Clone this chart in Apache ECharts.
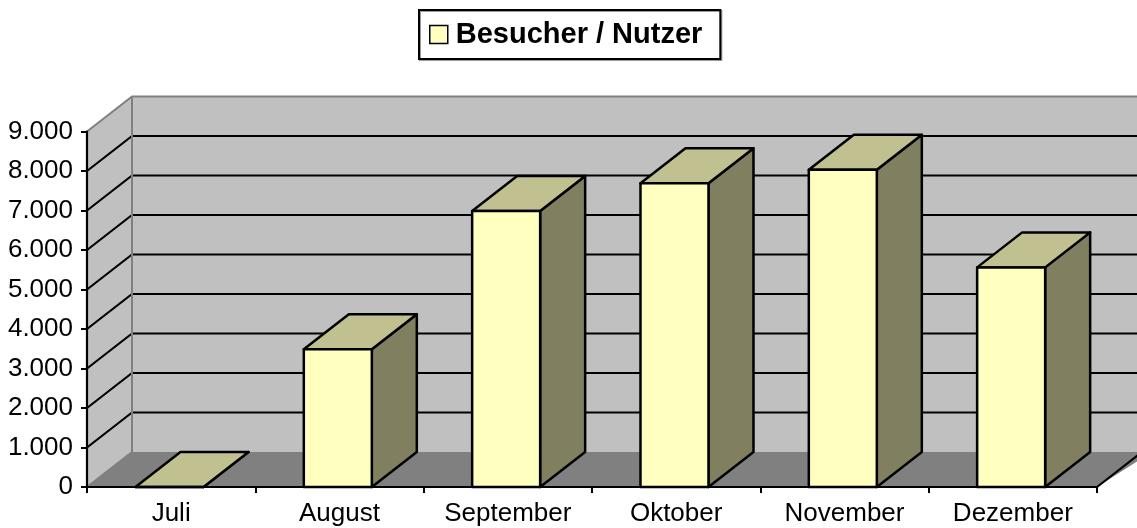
<!DOCTYPE html>
<html>
<head>
<meta charset="utf-8">
<title>Besucher / Nutzer</title>
<script src="https://cdn.jsdelivr.net/npm/echarts@6/dist/echarts.min.js"></script>
<style>
  html, body {
    margin: 0;
    padding: 0;
    background: #ffffff;
  }
  #chart {
    width: 1137px;
    height: 528px;
  }
</style>
</head>
<body>
<div id="chart"></div>
<script>
// Daten
let months = ['Juli', 'August', 'September', 'Oktober', 'November', 'Dezember'];
let visitors = [0, 3490, 6990, 7690, 8030, 5560];
let tickValues = [0, 1000, 2000, 3000, 4000, 5000, 6000, 7000, 8000, 9000];
let seriesName = 'Besucher / Nutzer';

// 3D Tiefe (Pixel)
let depthX = 45;
let depthY = -35;

let fontName = "'Liberation Sans', Arial, sans-serif";

function fmtThousands(v) {
  return String(v).replace(/\B(?=(\d{3})+(?!\d))/g, '.');
}

function renderWalls(params, api) {
  let cs = params.coordSys;
  let x0 = cs.x, x1 = cs.x + cs.width;
  let yTop = api.coord([0, tickValues[tickValues.length - 1]])[1];
  let yBase = api.coord([0, 0])[1];
  let children = [];

  // Rückwand
  children.push({
    type: 'polygon',
    shape: {points: [[x0 + depthX, yTop + depthY], [x1 + depthX + 10, yTop + depthY], [x1 + depthX + 10, yBase + depthY], [x0 + depthX, yBase + depthY]]},
    style: {fill: '#C0C0C0', stroke: null}
  });
  // Seitenwand links
  children.push({
    type: 'polygon',
    shape: {points: [[x0, yTop], [x0 + depthX, yTop + depthY], [x0 + depthX, yBase + depthY], [x0, yBase]]},
    style: {fill: '#C0C0C0', stroke: null}
  });
  // Boden
  children.push({
    type: 'polygon',
    shape: {points: [[x0, yBase], [x0 + depthX, yBase + depthY], [x1 + depthX + 10, yBase + depthY], [x1, yBase]]},
    style: {fill: '#808080', stroke: null}
  });

  // Gitterlinien
  for (let i = 1; i < tickValues.length - 1; i++) {
    let y = api.coord([0, tickValues[i]])[1];
    children.push({
      type: 'polyline',
      shape: {points: [[x0, y], [x0 + depthX, y + depthY], [x1 + depthX + 10, y + depthY]]},
      style: {stroke: '#000000', lineWidth: 2.2, fill: null}
    });
  }

  // graue Kanten
  children.push({
    type: 'polyline',
    shape: {points: [[x0, yTop], [x0 + depthX, yTop + depthY], [x1 + depthX + 10, yTop + depthY]]},
    style: {stroke: '#808080', lineWidth: 2, fill: null}
  });
  children.push({
    type: 'polyline',
    shape: {points: [[x0 + depthX, yTop + depthY], [x0 + depthX, yBase + depthY], [x0, yBase]]},
    style: {stroke: '#808080', lineWidth: 2, fill: null}
  });
  // rechte Bodenkante
  children.push({
    type: 'line',
    shape: {x1: x1, y1: yBase, x2: x1 + depthX, y2: yBase + depthY},
    style: {stroke: '#000000', lineWidth: 2.2}
  });

  return {type: 'group', children: children};
}

function renderBar(params, api) {
  let idx = api.value(0);
  let val = api.value(1);
  let top = api.coord([idx, val]);
  let base = api.coord([idx, 0]);
  let band = api.size([1, 0])[0];
  let left = top[0] - band * 0.212;
  let right = left + band * 0.404;
  let T = top[1];
  let B = base[1];
  let edge = {stroke: '#000000', lineWidth: 2.5, lineJoin: 'round'};

  return {
    type: 'group',
    children: [
      {
        type: 'polygon',
        shape: {points: [[right, T], [right + depthX, T + depthY], [right + depthX, B + depthY], [right, B]]},
        style: Object.assign({fill: '#808060'}, edge)
      },
      {
        type: 'polygon',
        shape: {points: [[left, T], [left + depthX, T + depthY], [right + depthX, T + depthY], [right, T]]},
        style: Object.assign({fill: '#C0C090'}, edge)
      },
      {
        type: 'rect',
        shape: {x: left, y: T, width: right - left, height: B - T},
        style: Object.assign({fill: '#FFFFC0'}, edge)
      }
    ]
  };
}

let chart = echarts.init(document.getElementById('chart'));

let option = {
  animation: false,
  backgroundColor: '#ffffff',
  legend: {
    data: [seriesName],
    top: 10,
    left: 419,
    padding: [10, 18, 10, 10],
    itemWidth: 18,
    itemHeight: 18,
    icon: 'rect',
    borderColor: '#000000',
    borderWidth: 2,
    backgroundColor: '#ffffff',
    shadowColor: '#9a9a9a',
    shadowOffsetX: 1,
    shadowOffsetY: 1,
    shadowBlur: 0,
    itemStyle: {color: '#FFFFC0', borderColor: '#000000', borderWidth: 1.5},
    textStyle: {fontFamily: fontName, fontWeight: 'bold', fontSize: 29, color: '#000000', padding: [0, 0, 0, 3]},
    selectedMode: false
  },
  grid: {
    left: 87,
    right: 40,
    top: 131.5,
    bottom: 41
  },
  xAxis: {
    type: 'category',
    data: months,
    boundaryGap: true,
    axisLine: {show: true, lineStyle: {color: '#000000', width: 2.2}},
    axisTick: {show: true, length: 6, lineStyle: {color: '#000000', width: 2}},
    axisLabel: {fontFamily: fontName, fontSize: 26, color: '#000000', margin: 14},
    splitLine: {show: false},
    z: 10
  },
  yAxis: {
    type: 'value',
    min: 0,
    max: 9000,
    interval: 1000,
    axisLine: {show: true, lineStyle: {color: '#000000', width: 2.2}},
    axisTick: {show: true, length: 6, lineStyle: {color: '#000000', width: 2}},
    axisLabel: {fontFamily: fontName, fontSize: 26, color: '#000000', margin: 14, formatter: fmtThousands},
    splitLine: {show: false},
    z: 10
  },
  series: [
    {
      name: 'walls',
      type: 'custom',
      renderItem: renderWalls,
      data: [[0, 0]],
      silent: true,
      z: 1
    },
    {
      name: seriesName,
      type: 'custom',
      renderItem: renderBar,
      itemStyle: {color: '#FFFFC0'},
      encode: {x: 0, y: 1},
      data: months.map(function (m, i) {
        return [i, visitors[i]];
      }),
      z: 2
    }
  ]
};

chart.setOption(option);
</script>
</body>
</html>
